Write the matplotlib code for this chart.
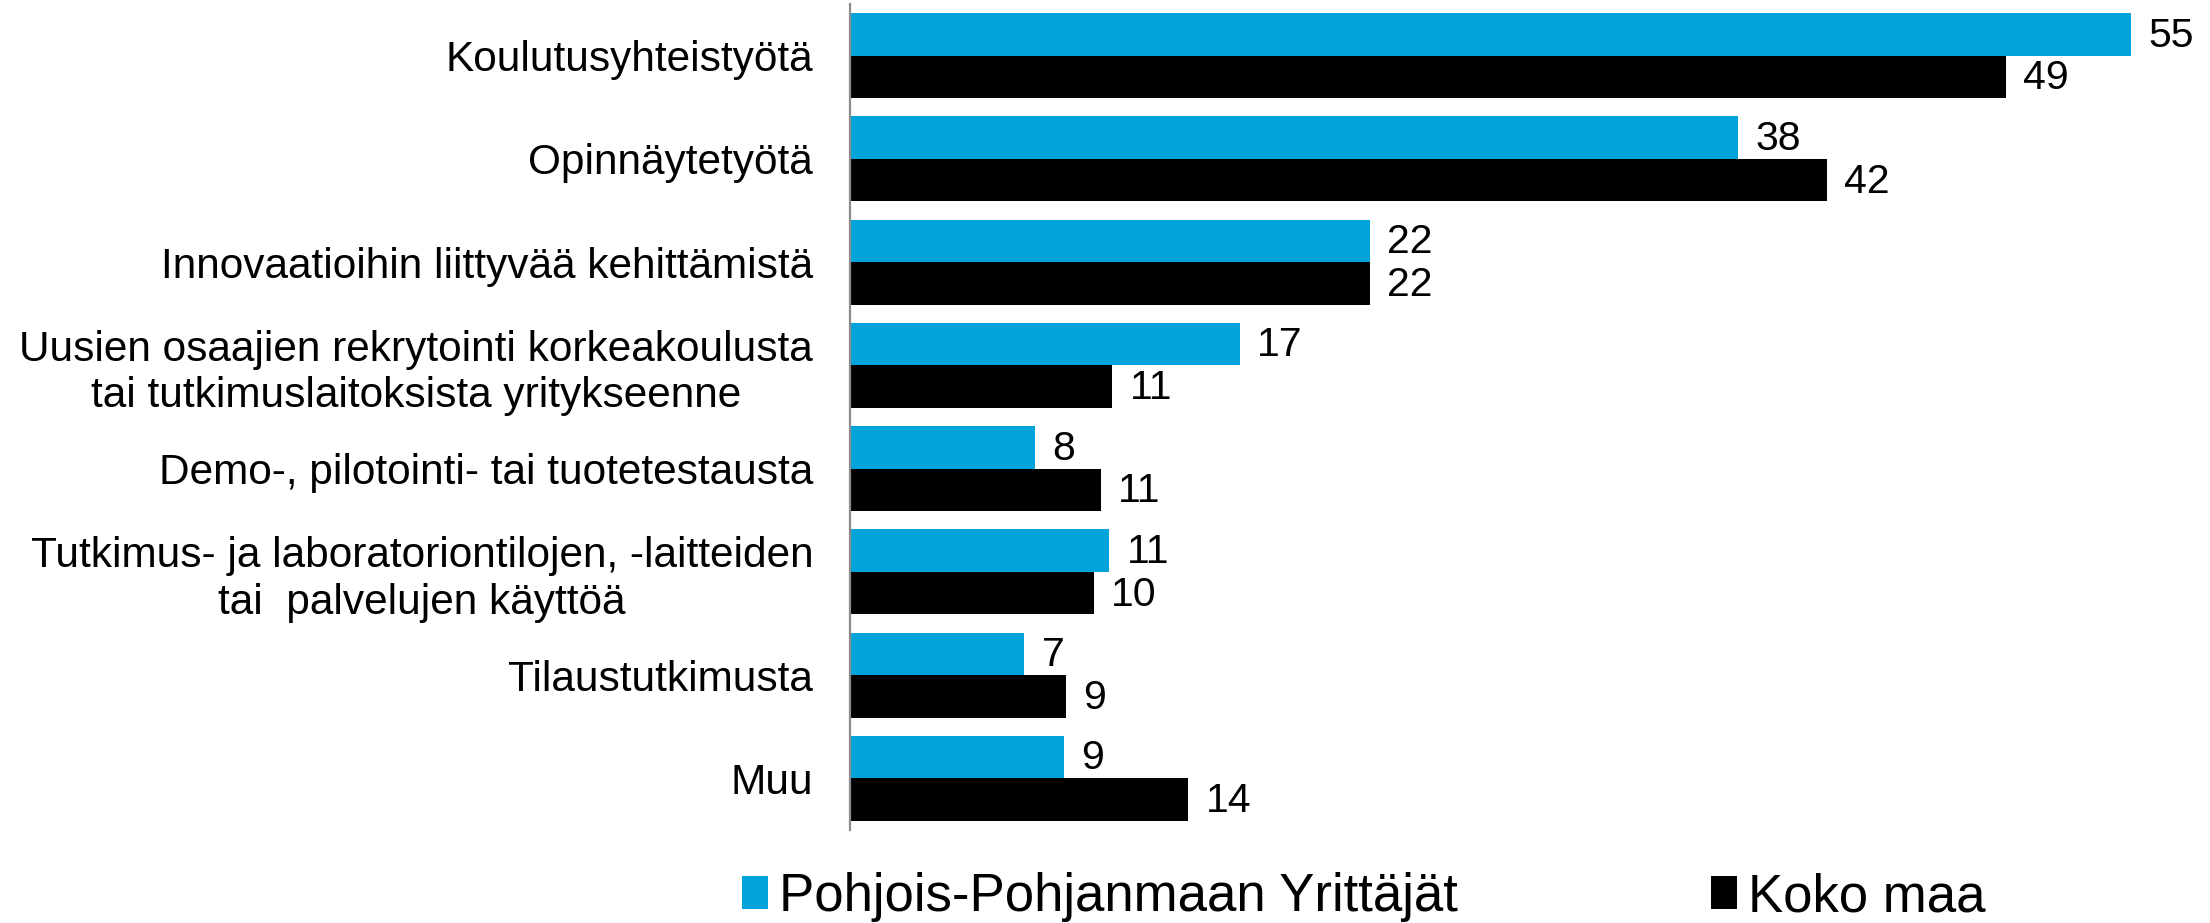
import matplotlib
matplotlib.use("Agg")
import matplotlib.pyplot as plt
import numpy as np
from matplotlib.patches import Patch

plt.rcParams["font.family"] = ["Liberation Sans", "DejaVu Sans"]

CATEGORIES = [
    "Koulutusyhteistyötä",
    "Opinnäytetyötä",
    "Innovaatioihin liittyvää kehittämistä",
    "Uusien osaajien rekrytointi korkeakoulusta\ntai tutkimuslaitoksista yritykseenne",
    "Demo-, pilotointi- tai tuotetestausta",
    "Tutkimus- ja laboratoriontilojen, -laitteiden\ntai  palvelujen käyttöä",
    "Tilaustutkimusta",
    "Muu",
]
SERIES = ["Pohjois-Pohjanmaan Yrittäjät", "Koko maa"]
REGION = [54.68, 37.92, 22.2, 16.65, 7.88, 11.06, 7.44, 9.14]
COUNTRY = [49.36, 41.70, 22.2, 11.19, 10.70, 10.41, 9.22, 14.44]
COLORS = ["#00A3DA", "#000000"]

W, H = 2210, 923
fig = plt.figure(figsize=(W / 100, H / 100), dpi=100)
ax = fig.add_axes([850 / W, 1 - 830 / H, 1 - 850 / W, 826 / H])

y = np.arange(len(CATEGORIES))
bh = 0.4125
for vals, off, color in [(REGION, -bh / 2, COLORS[0]), (COUNTRY, bh / 2, COLORS[1])]:
    bars = ax.barh(y + off, vals, height=bh, color=color, linewidth=0)
    for b, v in zip(bars, vals):
        ax.annotate(f"{round(v):d}", (b.get_width(), b.get_y() + b.get_height() / 2),
                    xytext=(12.5, -1), textcoords="offset points",
                    ha="left", va="center", fontsize=29.5)

ax.set_ylim(len(CATEGORIES) - 0.5, -0.5)
ax.set_xlim(0, 1360 / 23.42)
ax.set_yticks(y)
ax.set_yticklabels(CATEGORIES, fontsize=30.5, multialignment="center")
ax.tick_params(axis="y", length=0, pad=26.5)
ax.set_xticks([])
for side in ("top", "right", "bottom"):
    ax.spines[side].set_visible(False)
ax.spines["left"].set_color("#8c8c8c")
ax.spines["left"].set_linewidth(1.6)

handles = [Patch(facecolor=c, edgecolor="none") for c in COLORS]
fig.legend(handles, SERIES, loc="center", bbox_to_anchor=(0.617, 0.028), ncol=2,
           frameon=False, fontsize=38, handlelength=0.5, handleheight=0.6,
           handletextpad=0.2, columnspacing=4.8, borderpad=0)

fig.savefig("out.png", dpi=100)
